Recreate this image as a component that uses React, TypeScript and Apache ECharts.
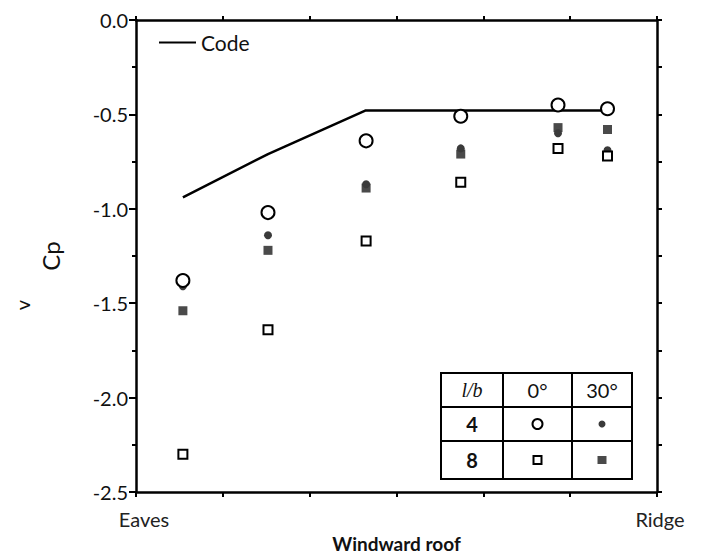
import React, { useEffect, useRef } from "react";
import * as echarts from "echarts";

// Positions along the windward roof (0 = Eaves, 6 = Ridge)
const xPos = [0.54, 1.52, 2.65, 3.74, 4.86, 5.43];
const codeX = [0.54, 1.52, 2.64, 5.5];
const codeCp = [-0.94, -0.71, -0.48, -0.48];
const lb4deg0 = [-1.38, -1.02, -0.64, -0.51, -0.45, -0.47];
const lb4deg30 = [-1.41, -1.14, -0.87, -0.68, -0.6, -0.69];
const lb8deg0 = [-2.3, -1.64, -1.17, -0.86, -0.68, -0.72];
const lb8deg30 = [-1.54, -1.22, -0.89, -0.71, -0.57, -0.58];
const yTicks = [0, -0.5, -1.0, -1.5, -2.0, -2.5];
const xEndLabels = ["Eaves", "Ridge"];

const FONT = "Lato, 'DejaVu Sans', sans-serif";
const SERIF = "'Liberation Serif', 'DejaVu Serif', serif";
const INK = "#000";

export default function App() {
  const ref = useRef<HTMLDivElement>(null);
  useEffect(() => {
    if (!ref.current) return;
    const chart = echarts.init(ref.current, null, { renderer: "svg", width: 710, height: 555 });
    const pts = (ys: number[]) => ys.map((y, i) => [xPos[i], y]);

    // legend table geometry
    const tx0 = 441, tx1 = 503, tx2 = 572, tx3 = 632;
    const ty0 = 373, ty1 = 407, ty2 = 441, ty3 = 479;
    const cx = [(tx0 + tx1) / 2, (tx1 + tx2) / 2, (tx2 + tx3) / 2];
    const cy = [(ty0 + ty1) / 2, (ty1 + ty2) / 2, (ty2 + ty3) / 2];
    const ls = { stroke: INK, lineWidth: 2 };
    const txt = (x: number, y: number, t: string, extra: any = {}) => ({
      type: "text",
      x,
      y,
      style: { text: t, font: `20px ${FONT}`, fill: "#111", align: "center", verticalAlign: "middle", ...extra },
    });
    const axisLine = { show: true, onZero: false, lineStyle: { color: INK, width: 2.5 } };
    const tickStyle = { color: INK, width: 2 };

    const option: any = {
      animation: false,
      backgroundColor: "#fff",
      grid: { left: 136, right: 53, top: 20, bottom: 63, containLabel: false, outerBoundsMode: "none" },
      legend: {
        data: ["Code"],
        left: 159,
        top: 32,
        padding: 0,
        itemWidth: 37,
        itemHeight: 2,
        icon: "rect",
        textStyle: { fontFamily: FONT, fontSize: 21, color: "#111" },
      },
      xAxis: [
        {
          type: "value",
          min: 0,
          max: 6,
          interval: 1,
          position: "bottom",
          axisLine,
          axisTick: { show: true, length: 5, lineStyle: tickStyle },
          splitLine: { show: false },
          axisLabel: {
            show: true,
            showMinLabel: true,
            showMaxLabel: true,
            margin: 17,
            formatter: (v: number) => (v === 0 ? `{e|${xEndLabels[0]}}` : v === 6 ? `{r|${xEndLabels[1]}}` : ""),
            rich: {
              e: { fontFamily: FONT, fontSize: 20, color: "#222", padding: [0, 0, 0, 16] },
              r: { fontFamily: FONT, fontSize: 20, color: "#222", padding: [0, 0, 0, 6] },
            },
          },
          name: "Windward roof",
          nameLocation: "middle",
          nameGap: 37,
          nameTextStyle: { fontFamily: FONT, fontSize: 19, fontWeight: "bold", color: "#111", lineHeight: 20 },
        },
        {
          type: "value",
          min: 0,
          max: 6,
          interval: 1,
          position: "top",
          axisLine,
          axisTick: { show: true, length: 4, lineStyle: tickStyle },
          splitLine: { show: false },
          axisLabel: { show: false },
        },
      ],
      yAxis: [
        {
          type: "value",
          min: -2.5,
          max: 0,
          interval: 0.5,
          position: "left",
          axisLine,
          axisTick: { show: true, length: 7, lineStyle: tickStyle },
          minorTick: { show: true, splitNumber: 2, length: 4, lineStyle: tickStyle },
          splitLine: { show: false },
          minorSplitLine: { show: false },
          axisLabel: {
            margin: 8,
            fontFamily: FONT,
            fontSize: 20,
            color: "#111",
            formatter: (v: number) => {
              const m = yTicks.find((t) => Math.abs(t - v) < 1e-9);
              return m === undefined ? "" : (Math.abs(m) < 1e-9 ? 0 : m).toFixed(1);
            },
          },
          name: "Cp",
          nameLocation: "middle",
          nameGap: 74,
          nameTextStyle: { fontFamily: FONT, fontSize: 24, color: "#111" },
        },
        {
          type: "value",
          min: -2.5,
          max: 0,
          interval: 0.25,
          position: "right",
          axisLine,
          axisTick: { show: true, length: 5, lineStyle: tickStyle },
          splitLine: { show: false },
          axisLabel: { show: false },
        },
      ],
      series: [
        {
          name: "Code",
          type: "line",
          data: codeX.map((x, i) => [x, codeCp[i]]),
          symbol: "none",
          lineStyle: { color: INK, width: 2.5 },
          itemStyle: { color: INK },
          z: 2,
        },
        {
          name: "l/b=8, 30°",
          type: "scatter",
          data: pts(lb8deg30),
          symbol: "rect",
          symbolSize: 9,
          itemStyle: { color: "#4a4a4a", opacity: 1 },
          z: 3,
        },
        {
          name: "l/b=4, 30°",
          type: "scatter",
          data: pts(lb4deg30),
          symbol: "circle",
          symbolSize: 8,
          itemStyle: { color: "#3a3a3a", opacity: 1 },
          z: 3,
        },
        {
          name: "l/b=8, 0°",
          type: "scatter",
          data: pts(lb8deg0),
          symbol: "rect",
          symbolSize: 9,
          itemStyle: { color: "#fff", borderColor: INK, borderWidth: 2, opacity: 1 },
          z: 4,
        },
        {
          name: "l/b=4, 0°",
          type: "scatter",
          data: pts(lb4deg0),
          symbol: "circle",
          symbolSize: 13,
          itemStyle: { color: "#fff", borderColor: INK, borderWidth: 2, opacity: 1 },
          z: 5,
        },
      ],
      graphic: [
        {
          type: "text",
          x: 22,
          y: 305,
          rotation: Math.PI / 2,
          style: { text: "v", font: `20px ${FONT}`, fill: "#111", align: "center", verticalAlign: "middle" },
        },
        {
          type: "group",
          children: [
            { type: "rect", shape: { x: tx0, y: ty0, width: tx3 - tx0, height: ty3 - ty0 }, style: { fill: "#fff", ...ls } },
            { type: "line", shape: { x1: tx1, y1: ty0, x2: tx1, y2: ty3 }, style: ls },
            { type: "line", shape: { x1: tx2, y1: ty0, x2: tx2, y2: ty3 }, style: ls },
            { type: "line", shape: { x1: tx0, y1: ty1, x2: tx3, y2: ty1 }, style: ls },
            { type: "line", shape: { x1: tx0, y1: ty2, x2: tx3, y2: ty2 }, style: ls },
            txt(cx[0], cy[0], "l/b", { font: `italic 20px ${SERIF}` }),
            txt(cx[1], cy[0], "0°"),
            txt(cx[2], cy[0], "30°"),
            txt(cx[0], cy[1], "4", { font: `bold 20px ${FONT}` }),
            txt(cx[0], cy[2], "8", { font: `bold 20px ${FONT}` }),
            { type: "circle", shape: { cx: cx[1], cy: cy[1], r: 5 }, style: { fill: "#fff", stroke: INK, lineWidth: 2 } },
            { type: "circle", shape: { cx: cx[2], cy: cy[1], r: 3.5 }, style: { fill: "#3a3a3a" } },
            { type: "rect", shape: { x: cx[1] - 4, y: cy[2] - 4, width: 8, height: 8 }, style: { fill: "#fff", stroke: INK, lineWidth: 2 } },
            { type: "rect", shape: { x: cx[2] - 4.5, y: cy[2] - 4, width: 9, height: 8 }, style: { fill: "#4a4a4a" } },
          ],
        },
      ],
    };
    chart.setOption(option);
    return () => chart.dispose();
  }, []);
  return <div ref={ref} style={{ position: "absolute", left: 0, top: 0, width: 710, height: 555 }} />;
}
